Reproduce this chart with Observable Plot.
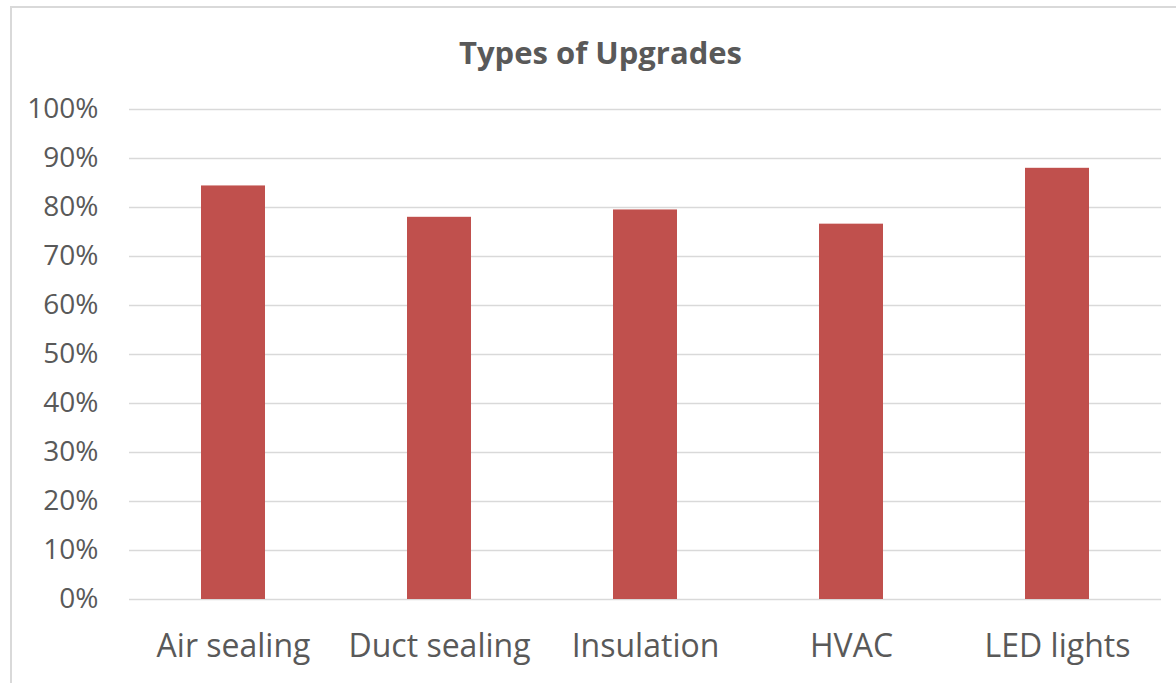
<!DOCTYPE html>
<html>
<head>
<meta charset="utf-8">
<script src="https://cdn.jsdelivr.net/npm/d3@7"></script>
<script src="https://cdn.jsdelivr.net/npm/@observablehq/plot@0.6"></script>
<style>
  html, body { margin: 0; padding: 0; background: #fff; }
  #wrap { position: relative; width: 1176px; height: 683px; overflow: hidden; }
  #frame { position: absolute; left: 10px; top: 6px; width: 1200px; height: 700px;
           border-left: 2px solid #d9d9d9; border-top: 2px solid #d9d9d9; box-sizing: border-box; }
  #title { position: absolute; left: 0; width: 1201px; top: 32px; text-align: center;
           font-family: "Open Sans", sans-serif; font-weight: bold; font-size: 31px; color: #595959; line-height: 40px; }
  #chart { position: absolute; left: 0; top: 80px; }
</style>
</head>
<body>
<div id="wrap">
  <div id="frame"></div>
  <div id="title">Types of Upgrades</div>
  <div id="chart"></div>
</div>
<script>
const categories = ["Air sealing", "Duct sealing", "Insulation", "HVAC", "LED lights"];
const values = [0.844, 0.780, 0.795, 0.766, 0.880];
const yTicks = [0, 0.1, 0.2, 0.3, 0.4, 0.5, 0.6, 0.7, 0.8, 0.9, 1.0];

const data = categories.map((c, i) => ({category: c, value: values[i]}));

const chart = Plot.plot({
  width: 1176,
  height: 603,
  marginTop: 29,
  marginBottom: 84,
  marginLeft: 129,
  marginRight: 15,
  style: {fontFamily: "'Open Sans', sans-serif", color: "#595959", background: "transparent"},
  x: {domain: categories, paddingInner: 0.69, paddingOuter: 0.345, label: null},
  y: {domain: [0, 1], label: null},
  marks: [
    Plot.gridY(yTicks, {stroke: "#d9d9d9", strokeOpacity: 1, strokeWidth: 1.5}),
    Plot.barY(data, {x: "category", y: "value", fill: "#C0504D"}),
    Plot.axisY(yTicks, {tickSize: 0, tickPadding: 31, tickFormat: d => Math.round(d * 100) + "%", fontSize: 28, fill: "#595959", label: null}),
    Plot.axisX({tickSize: 0, tickPadding: 35, fontSize: 32, fill: "#595959", label: null})
  ]
});
document.getElementById("chart").appendChild(chart);
</script>
</body>
</html>
